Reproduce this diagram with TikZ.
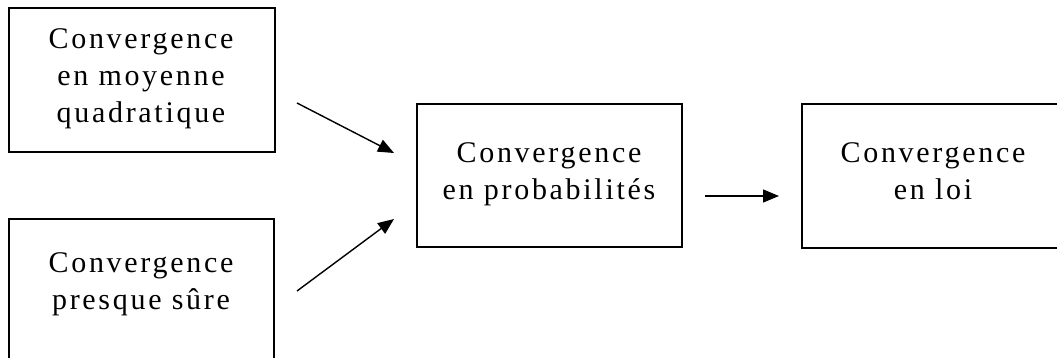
\documentclass[tikz,border=0pt]{standalone}
\usepackage{fontspec}
\setmainfont[LetterSpace=9]{Liberation Serif}
\usetikzlibrary{arrows.meta}
\begin{document}
\begin{tikzpicture}[x=1pt,y=-1pt,
  box/.style={draw, line width=1.7pt, rectangle, inner sep=0pt},
  lbl/.style={align=center, inner sep=0pt, font=\fontsize{30pt}{37pt}\selectfont},
  conn/.style={line width=1.4pt, -{Triangle[length=16pt,width=13pt]}}]
\useasboundingbox (0,0) rectangle (1057,358);
\clip (0,0) rectangle (1057,358);
\node[box, minimum width=266pt, minimum height=144pt] (b1) at (142,80) {};
\node[box, minimum width=265pt, minimum height=144pt] (b2) at (141.5,291) {};
\node[box, minimum width=265pt, minimum height=143pt] (b3) at (549.5,175.5) {};
\node[box, minimum width=262pt, minimum height=144pt] (b4) at (933,176) {};
\node[lbl] (t1) at (141,78.6) {Convergence\\en moyenne\\quadratique};
\node[lbl] (t2) at (141,284.5) {Convergence\\presque sûre};
\node[lbl] (t3) at (549,174.6) {Convergence\\en probabilités};
\node[lbl] (t4) at (933,171.4) {Convergence\\en loi};
\coordinate (a1s) at (297,103);
\coordinate (a1e) at (394,153);
\coordinate (a2s) at (297,291);
\coordinate (a2e) at (394,219);
\coordinate (a3s) at (705,196);
\coordinate (a3e) at (779,196);
\draw[conn] (a1s) -- (a1e);
\draw[conn] (a2s) -- (a2e);
\draw[conn] (a3s) -- (a3e);
\end{tikzpicture}
\end{document}
